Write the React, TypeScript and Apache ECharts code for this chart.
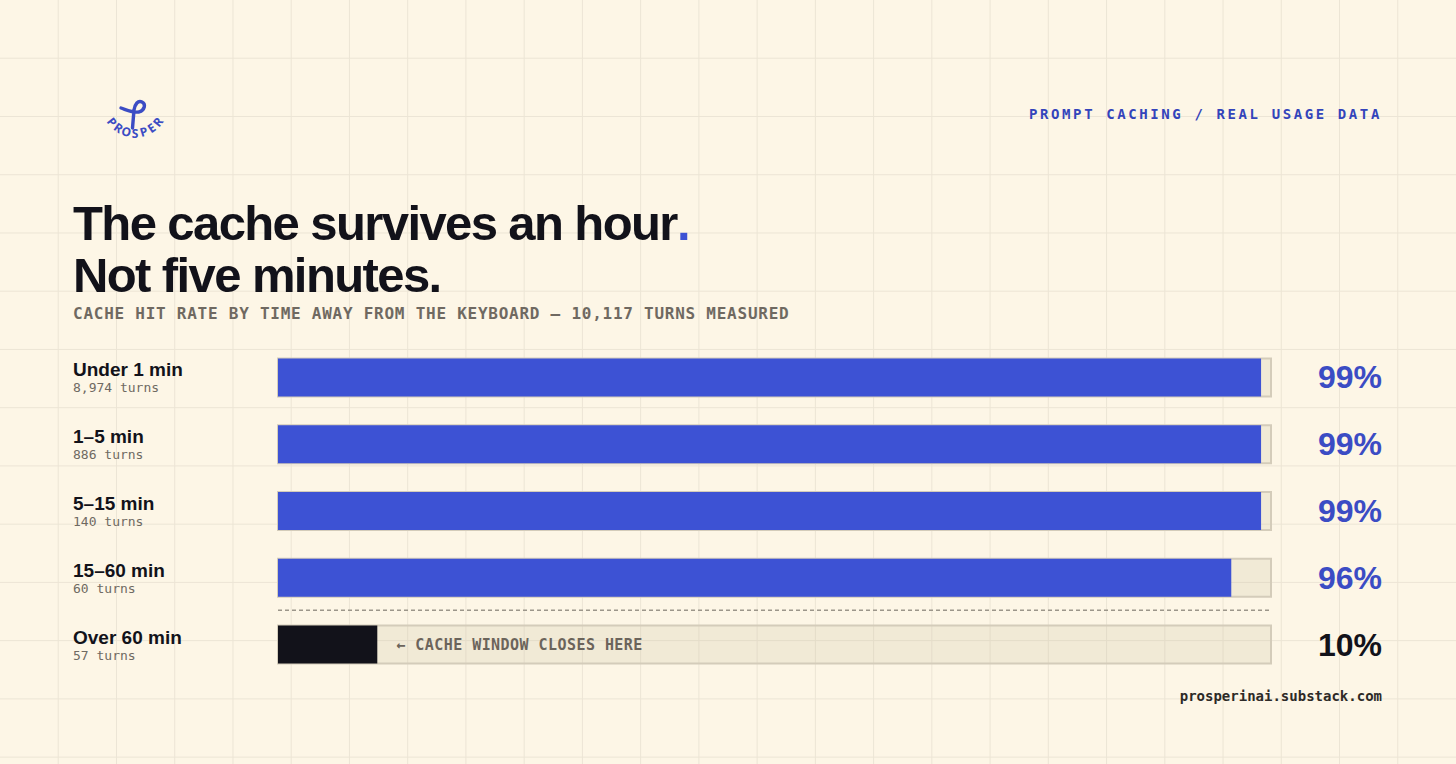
import React, { useEffect, useRef } from "react";
import * as echarts from "echarts";

// ---------- data ----------
const categories = ["Under 1 min", "1–5 min", "5–15 min", "15–60 min", "Over 60 min"];
const turnCounts = ["8,974", "886", "140", "60", "57"];
const hitRates = [99, 99, 99, 96, 10];
const axisMax = 100;
const eyebrow = "PROMPT CACHING / REAL USAGE DATA";
const titleLine1 = "The cache survives an hour";
const titleLine2 = "Not five minutes.";
const subtitle = "CACHE HIT RATE BY TIME AWAY FROM THE KEYBOARD — 10,117 TURNS MEASURED";
const annotation = "← CACHE WINDOW CLOSES HERE";
const footer = "prosperinai.substack.com";
const brand = "PROSPER";

// ---------- style ----------
const W = 1456;
const H = 764;
const BG = "#fdf6e6";
const GRIDLINE = "#ece5d5";
const BLUE = "#3d52d4";
const BLUE_TEXT = "#3b4cc4";
const INK = "#12121a";
const GRAY = "#6f6961";
const MONO = "'DejaVu Sans Mono', monospace";
const SANS = "'Liberation Sans', Arial, sans-serif";
const gLeft = 278;
const gRight = 1271;
const gTop = 344;
const gBottom = 678;

echarts.graphic.registerShape(
  "prosperMark",
  echarts.graphic.extendPath(
    "M121 108 C127 110 133 113 139 112 C145 110 146 104 142 102 C138 100 135 104 134 110 L132.5 128",
    {}
  )
);

const css = `
body { margin: 0; }
text[style*="trkT"] { letter-spacing: -1.6px; }
text[style*="trkE"] { letter-spacing: 2.6px; }
text[style*="trkS"] { letter-spacing: 0.75px; }
text[style*="trkA"] { letter-spacing: 0.45px; }
`;

export default function App() {
  const ref = useRef<HTMLDivElement>(null);

  useEffect(() => {
    if (!ref.current) return;
    const chart = echarts.init(ref.current, null, { renderer: "svg", width: W, height: H });

    const graphics: any[] = [];
    const step = W / 25;
    for (let k = 1; k < 25; k++) {
      graphics.push({
        type: "line",
        z: 0,
        silent: true,
        shape: { x1: k * step, y1: 0, x2: k * step, y2: H },
        style: { stroke: GRIDLINE, lineWidth: 1 },
      });
    }
    for (let k = 1; k * step < H; k++) {
      graphics.push({
        type: "line",
        z: 0,
        silent: true,
        shape: { x1: 0, y1: k * step, x2: W, y2: k * step },
        style: { stroke: GRIDLINE, lineWidth: 1 },
      });
    }

    // logo
    graphics.push({
      type: "prosperMark",
      z: 5,
      style: { fill: "none", stroke: BLUE_TEXT, lineWidth: 3.4, lineCap: "round", lineJoin: "round" },
    });
    const cx = 135;
    const cy = 104;
    const r = 29;
    brand.split("").forEach((ch, i) => {
      const deg = -52 + (i * 104) / (brand.length - 1);
      const th = (deg * Math.PI) / 180;
      graphics.push({
        type: "text",
        z: 5,
        x: cx + r * Math.sin(th),
        y: cy + r * Math.cos(th),
        rotation: th,
        style: {
          text: ch,
          fill: BLUE_TEXT,
          font: `bold 12px 'Noto Sans', sans-serif`,
          align: "center",
          verticalAlign: "middle",
        },
      });
    });

    // eyebrow
    graphics.push({
      type: "text",
      z: 5,
      x: 1029,
      y: 114,
      style: {
        text: eyebrow,
        fill: "#3344bb",
        font: `bold 14px 'DejaVu Sans Mono', trkE, monospace`,
        align: "left",
        verticalAlign: "middle",
      },
    });

    // title
    graphics.push({
      type: "text",
      z: 5,
      x: 73,
      y: 222.5,
      style: {
        text: titleLine1,
        fill: INK,
        font: `bold 49px 'Liberation Sans', trkT, sans-serif`,
        align: "left",
        verticalAlign: "middle",
      },
    });
    graphics.push({
      type: "text",
      z: 5,
      x: 677,
      y: 222.5,
      style: {
        text: ".",
        fill: BLUE,
        font: `bold 49px 'Liberation Sans', sans-serif`,
        align: "left",
        verticalAlign: "middle",
      },
    });
    graphics.push({
      type: "text",
      z: 5,
      x: 73,
      y: 274.5,
      style: {
        text: titleLine2,
        fill: INK,
        font: `bold 49px 'Liberation Sans', trkT, sans-serif`,
        align: "left",
        verticalAlign: "middle",
      },
    });
    graphics.push({
      type: "text",
      z: 5,
      x: 73,
      y: 313,
      style: {
        text: subtitle,
        fill: GRAY,
        font: `bold 16px 'DejaVu Sans Mono', trkS, monospace`,
        align: "left",
        verticalAlign: "middle",
      },
    });

    // divider between the in-window rows and the last row
    const band = (gBottom - gTop) / categories.length;
    const divY = gTop + (categories.length - 1) * band - 1;
    graphics.push({
      type: "line",
      z: 5,
      silent: true,
      shape: { x1: gLeft, y1: divY, x2: gRight, y2: divY },
      style: { stroke: "#9c968a", lineWidth: 1.5, lineDash: [4, 3] },
    });

    // footer
    graphics.push({
      type: "text",
      z: 5,
      x: 1382,
      y: 696,
      style: {
        text: footer,
        fill: "#2d2a27",
        font: `bold 14px ${MONO}`,
        align: "right",
        verticalAlign: "middle",
      },
    });

    const last = hitRates.length - 1;

    chart.setOption({
      animation: false,
      backgroundColor: BG,
      grid: {
        left: gLeft,
        right: W - gRight,
        top: gTop,
        bottom: H - gBottom,
        containLabel: false,
      },
      xAxis: {
        type: "value",
        min: 0,
        max: axisMax,
        show: false,
      },
      yAxis: [
        {
          type: "category",
          data: categories,
          inverse: true,
          axisLine: { show: false },
          axisTick: { show: false },
          splitLine: { show: false },
          axisLabel: {
            align: "left",
            margin: gLeft - 73,
            formatter: (val: string, idx: number) => `{n|${val}}\n{t|${turnCounts[idx]} turns}`,
            rich: {
              n: {
                fontFamily: SANS,
                fontWeight: "bold",
                fontSize: 19,
                color: INK,
                lineHeight: 21,
              },
              t: {
                fontFamily: MONO,
                fontWeight: "normal",
                fontSize: 13,
                color: "#6f6a62",
                lineHeight: 15,
              },
            },
          },
        },
        {
          type: "category",
          position: "right",
          data: hitRates.map((v) => `${v}%`),
          inverse: true,
          axisLine: { show: false },
          axisTick: { show: false },
          splitLine: { show: false },
          axisLabel: {
            align: "right",
            margin: 1382 - gRight,
            formatter: (val: string, idx: number) => (idx === last ? `{k|${val}}` : `{b|${val}}`),
            rich: {
              b: { fontFamily: SANS, fontWeight: "bold", fontSize: 32, color: BLUE_TEXT },
              k: { fontFamily: SANS, fontWeight: "bold", fontSize: 32, color: INK },
            },
          },
        },
      ],
      series: [
        {
          type: "bar",
          yAxisIndex: 0,
          barWidth: 38,
          showBackground: true,
          backgroundStyle: {
            color: "rgba(200,190,160,0.22)",
            borderColor: "#d4ccba",
            borderWidth: 2,
          },
          itemStyle: { color: BLUE },
          data: hitRates.map((v, i) =>
            i === last
              ? {
                  value: v,
                  itemStyle: { color: INK },
                  label: {
                    show: true,
                    position: "right",
                    distance: 19,
                    formatter: annotation,
                    fontFamily: "'DejaVu Sans Mono', trkA, monospace",
                    fontWeight: "bold",
                    fontSize: 15,
                    color: "#6b645b",
                  },
                }
              : v
          ),
        },
      ],
      graphic: { elements: graphics },
    });

    return () => chart.dispose();
  }, []);

  return (
    <>
      <style>{css}</style>
      <div ref={ref} style={{ width: W, height: H, background: BG }} />
    </>
  );
}
